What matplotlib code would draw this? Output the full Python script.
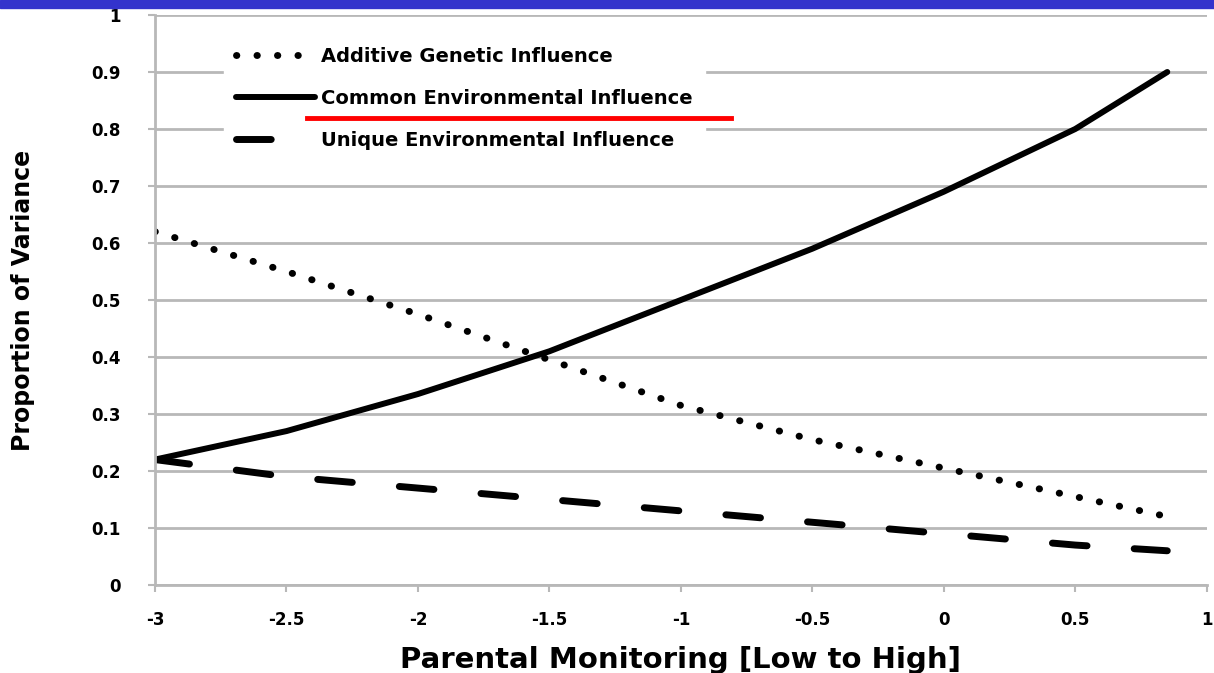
import matplotlib.pyplot as plt
from matplotlib.lines import Line2D
from matplotlib.patches import Rectangle

monitoring = [-3, -2.5, -2, -1.5, -1, -0.5, 0, 0.5, 0.85]
additive = [0.62, 0.55, 0.475, 0.395, 0.315, 0.255, 0.205, 0.155, 0.12]
common = [0.22, 0.27, 0.335, 0.41, 0.50, 0.59, 0.69, 0.80, 0.90]
unique = [0.22, 0.19, 0.17, 0.15, 0.13, 0.11, 0.09, 0.07, 0.06]

xticks = [-3, -2.5, -2, -1.5, -1, -0.5, 0, 0.5, 1]
xtick_labels = ['-3', '-2.5', '-2', '-1.5', '-1', '-0.5', '0', '0.5', '1']
yticks = [0, 0.1, 0.2, 0.3, 0.4, 0.5, 0.6, 0.7, 0.8, 0.9, 1]
ytick_labels = ['0', '0.1', '0.2', '0.3', '0.4', '0.5', '0.6', '0.7', '0.8', '0.9', '1']

plt.rcParams['font.family'] = ['DejaVu Sans']

fig = plt.figure(figsize=(12.14, 6.73), dpi=100)
ax = fig.add_axes([0.1277, 0.1308, 0.8663, 0.8469])

# blue banner at the top of the slide
fig.patches.append(Rectangle((0, 0.988), 1, 0.012, transform=fig.transFigure,
                             color='#3333cc', zorder=0))

ax.plot(monitoring, additive, color='black', lw=5, linestyle=(0, (0.05, 2.9)),
        dash_capstyle='round', label='Additive Genetic Influence')
ax.plot(monitoring, common, color='black', lw=4.3, solid_capstyle='round',
        label='Common Environmental Influence')
ax.plot(monitoring, unique, color='black', lw=5, linestyle=(0, (5, 6.8)),
        dash_capstyle='round', label='Unique Environmental Influence')

ax.set_xlim(-3, 1)
ax.set_ylim(0, 1)
ax.set_xticks(xticks)
ax.set_xticklabels(xtick_labels)
ax.set_yticks(yticks)
ax.set_yticklabels(ytick_labels)
ax.grid(axis='y', color='#b8b8b8', lw=2)
ax.set_axisbelow(True)
for s in ['top', 'right']:
    ax.spines[s].set_visible(False)
for s in ['left', 'bottom']:
    ax.spines[s].set_color('#b8b8b8')
    ax.spines[s].set_linewidth(2)
ax.tick_params(axis='both', colors='#b8b8b8', labelcolor='black', width=1.5, length=5,
               labelsize=12)
for lbl in ax.get_xticklabels() + ax.get_yticklabels():
    lbl.set_fontweight('bold')
ax.tick_params(axis='x', pad=14)
ax.tick_params(axis='y', pad=20)

ax.set_xlabel('Parental Monitoring [Low to High]', fontsize=21, fontweight='bold', labelpad=12)
ax.set_ylabel('Proportion of Variance', fontsize=17, fontweight='bold', labelpad=40)

leg = ax.legend(loc='upper left', bbox_to_anchor=(0.0656, 0.965), borderaxespad=0,
                frameon=True, prop={'size': 14, 'weight': 'bold'}, handlelength=4.1,
                handletextpad=0.3, labelspacing=1.2, borderpad=0.6)
leg.get_frame().set_facecolor('white')
leg.get_frame().set_edgecolor('white')
leg.get_frame().set_alpha(1)

# red underline beneath "Common Environmental Influence"
fig.lines.append(Line2D([307 / 1214, 731 / 1214], [1 - 118 / 673, 1 - 118 / 673],
                        transform=fig.transFigure, color='red', lw=3.5))

fig.savefig('out.png', dpi=100)
